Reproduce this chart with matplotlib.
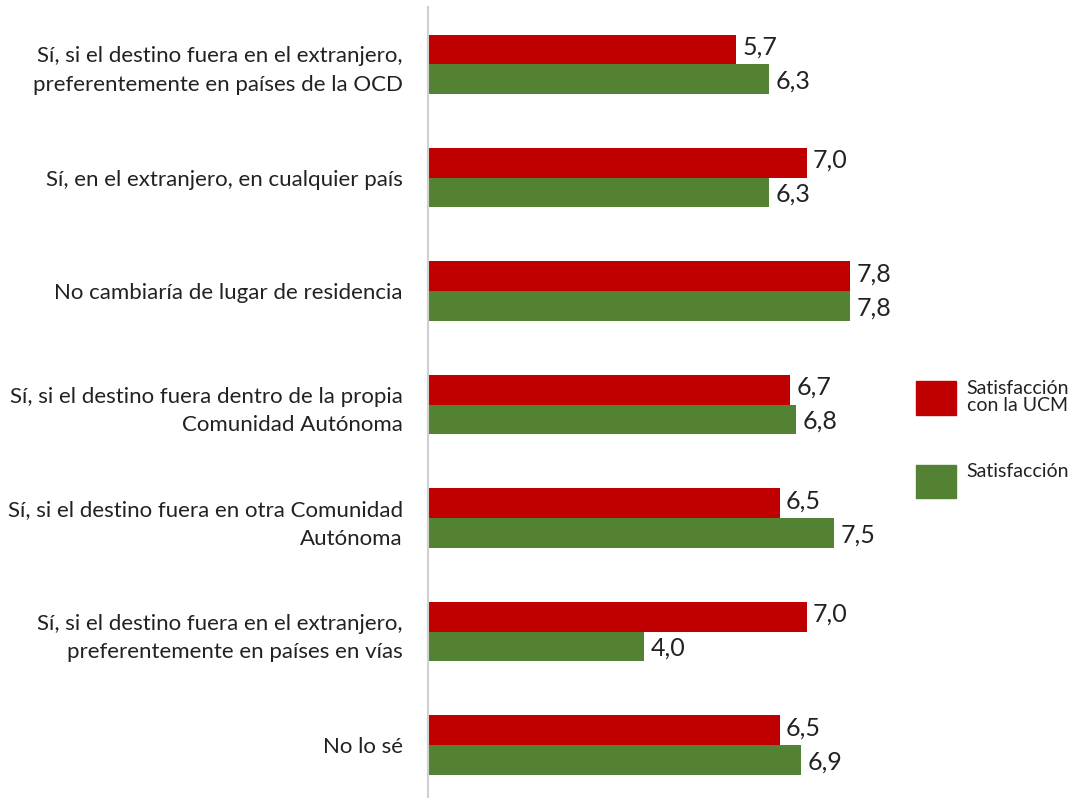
import matplotlib.pyplot as plt
import numpy as np
from matplotlib.patches import Patch

plt.rcParams["font.family"] = ["Lato", "DejaVu Sans"]

categorias = ["Sí, si el destino fuera en el extranjero,\npreferentemente en países de la OCD",
              "Sí, en el extranjero, en cualquier país",
              "No cambiaría de lugar de residencia",
              "Sí, si el destino fuera dentro de la propia\nComunidad Autónoma",
              "Sí, si el destino fuera en otra Comunidad\nAutónoma",
              "Sí, si el destino fuera en el extranjero,\npreferentemente en países en vías",
              "No lo sé"]
satisf_ucm = [5.7, 7.0, 7.8, 6.7, 6.5, 7.0, 6.5]
satisf = [6.3, 6.3, 7.8, 6.8, 7.5, 4.0, 6.9]
series = ["Satisfacción\ncon la UCM", "Satisfacción\n"]

rojo = "#c00000"
verde = "#548235"

fig = plt.figure(figsize=(10.75, 7.98), dpi=100)
ax = fig.add_axes([0.398, -0.0047, 0.453, 0.9956])

y = np.arange(len(categorias))
h = 0.26
ax.barh(y - h / 2, satisf_ucm, height=h, color=rojo)
ax.barh(y + h / 2, satisf, height=h, color=verde)

for i in range(len(categorias)):
    ax.text(satisf_ucm[i] + 0.12, y[i] - h / 2 - 0.02, f"{satisf_ucm[i]:.1f}".replace(".", ","),
            va="center", ha="left", fontsize=18, color="#222222")
    ax.text(satisf[i] + 0.12, y[i] + h / 2 + 0.02, f"{satisf[i]:.1f}".replace(".", ","),
            va="center", ha="left", fontsize=18, color="#222222")

ax.set_xlim(0, 9)
ax.set_ylim(len(categorias) - 0.5, -0.5)
ax.set_yticks(y)
ax.set_yticklabels(categorias, fontsize=16, color="#222222", linespacing=1.55)
ax.tick_params(axis="y", length=0, pad=18)
ax.set_xticks([])
for s in ["top", "right", "bottom"]:
    ax.spines[s].set_visible(False)
ax.spines["left"].set_color("#d0d0d0")
ax.spines["left"].set_linewidth(1.5)

handles = [Patch(color=rojo), Patch(color=verde)]
leg = fig.legend(handles, series, loc="upper left", bbox_to_anchor=(0.8445, 0.534),
                 frameon=False, fontsize=14, handlelength=2.06, handleheight=2.25,
                 labelspacing=2.5, handletextpad=0.56, borderaxespad=0)
for t in leg.get_texts():
    t.set_linespacing(1.05)
    t.set_color("#222222")

fig.savefig("out.png", dpi=100)
